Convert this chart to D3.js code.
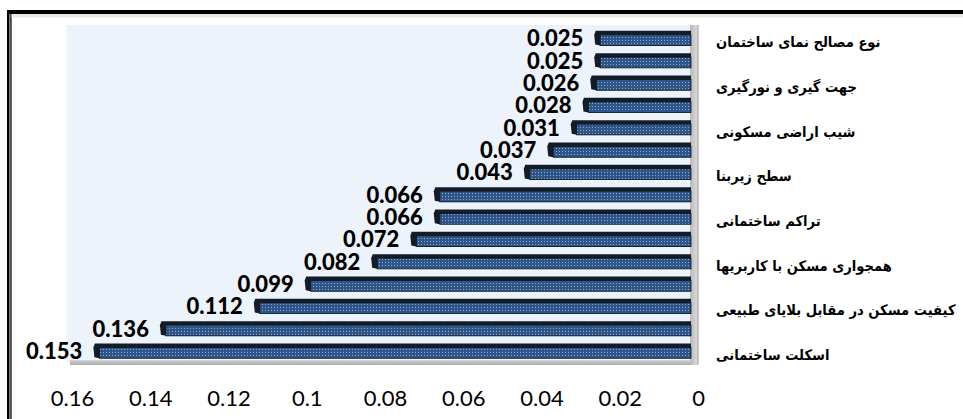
<!DOCTYPE html>
<html>
<head>
<meta charset="utf-8">
<script src="https://cdn.jsdelivr.net/npm/d3@7"></script>
<style>
  html, body { margin: 0; padding: 0; background: #ffffff; }
  svg { display: block; }
</style>
</head>
<body>
<svg id="chart" width="963" height="419"></svg>
<script>
// ---- data (top bar first) ----
const values = [0.025, 0.025, 0.026, 0.028, 0.031, 0.037, 0.043, 0.066, 0.066, 0.072, 0.082, 0.099, 0.112, 0.136, 0.153];
const valueLabels = ["0.025", "0.025", "0.026", "0.028", "0.031", "0.037", "0.043", "0.066", "0.066", "0.072", "0.082", "0.099", "0.112", "0.136", "0.153"];
// category labels shown on every other bar (index -> text)
const categoryIndex = [0, 2, 4, 6, 8, 10, 12, 14];
const categoryLabels = [
  "نوع مصالح نمای ساختمان",
  "جهت گیری و نورگیری",
  "شیب اراضی مسکونی",
  "سطح زیربنا",
  "تراکم ساختمانی",
  "همجواری مسکن با کاربریها",
  "کیفیت مسکن در مقابل بلایای طبیعی",
  "اسکلت ساختمانی"
];
const xTicks = [0.16, 0.14, 0.12, 0.1, 0.08, 0.06, 0.04, 0.02, 0];
const xTickLabels = ["0.16", "0.14", "0.12", "0.1", "0.08", "0.06", "0.04", "0.02", "0"];

const svg = d3.select("#chart");

// ---- frame ----
svg.append("rect").attr("x", 7).attr("y", 10).attr("width", 956).attr("height", 4).attr("fill", "#000");
svg.append("rect").attr("x", 7).attr("y", 10).attr("width", 2.5).attr("height", 409).attr("fill", "#000");
svg.append("rect").attr("x", 10.3).attr("y", 14).attr("width", 1.3).attr("height", 405).attr("fill", "#000");
svg.append("rect").attr("x", 11.6).attr("y", 14).attr("width", 952).attr("height", 3.6).attr("fill", "#eeebe1");

// ---- scales ----
const x = d3.scaleLinear().domain([0, 0.16]).range([698, 72]);
const y = d3.scaleBand().domain(d3.range(values.length)).range([27, 362]).paddingInner(0.34).paddingOuter(0.17);

// plot background
const plotLeft = 66.5, plotTop = 25, plotRight = 693, plotBottom = 362;
svg.append("rect").attr("x", plotLeft).attr("y", plotTop)
  .attr("width", plotRight - plotLeft).attr("height", plotBottom - plotTop).attr("fill", "#edf3fb");

// defs
const defs = svg.append("defs");
const pat = defs.append("pattern").attr("id", "dots").attr("patternUnits", "userSpaceOnUse")
  .attr("width", 3).attr("height", 3);
pat.append("rect").attr("width", 3).attr("height", 3).attr("fill", "#2f5688");
pat.append("rect").attr("x", 1).attr("y", 1).attr("width", 1).attr("height", 1).attr("fill", "#8fa9ce");
const wallG = defs.append("linearGradient").attr("id", "wall").attr("x1", 0).attr("x2", 1).attr("y1", 0).attr("y2", 0);
wallG.append("stop").attr("offset", "0%").attr("stop-color", "#b9b9b9");
wallG.append("stop").attr("offset", "100%").attr("stop-color", "#dedede");
const floorG = defs.append("linearGradient").attr("id", "floor").attr("x1", 0).attr("x2", 0).attr("y1", 0).attr("y2", 1);
floorG.append("stop").attr("offset", "0%").attr("stop-color", "#d6d6d6");
floorG.append("stop").attr("offset", "100%").attr("stop-color", "#a8a8a8");

// floor & wall
svg.append("rect").attr("x", 70).attr("y", 360).attr("width", 628).attr("height", 5).attr("fill", "url(#floor)");
svg.append("rect").attr("x", 690).attr("y", 25).attr("width", 8).attr("height", 340).attr("fill", "url(#wall)");
svg.append("line").attr("x1", 698).attr("x2", 698).attr("y1", 25).attr("y2", 365).attr("stroke", "#9a9a9a").attr("stroke-width", 1);

// ---- bars ----
const depthX = 6, depthY = 4;
const bars = svg.append("g");
values.forEach((v, i) => {
  const fx = x(v), by = y(i), bh = y.bandwidth();
  const bx = fx - depthX;
  const right = 691;
  // depth (top + left end)
  bars.append("path")
    .attr("d", `M${bx},${by + depthY} L${bx + 1.5},${by} L${right},${by} L${right},${by + bh} L${fx},${by + bh} L${bx + 1},${by + bh - 1} Z`)
    .attr("fill", "#141c28");
  // front face
  bars.append("rect")
    .attr("x", fx).attr("y", by + depthY)
    .attr("width", right - fx).attr("height", bh - depthY)
    .attr("fill", "url(#dots)").attr("stroke", "#0d1520").attr("stroke-width", 0.8);
});

// ---- value labels ----
svg.append("g").selectAll("text").data(values).join("text")
  .attr("x", d => x(d) - 17)
  .attr("y", (d, i) => y(i) + y.bandwidth() / 2 + 8)
  .attr("text-anchor", "end")
  .attr("font-family", "Lato, 'Open Sans', sans-serif")
  .attr("font-weight", "900")
  .attr("font-size", 22)
  .attr("fill", "#000")
  .text((d, i) => valueLabels[i]);

// ---- category labels ----
svg.append("g").selectAll("text").data(categoryLabels).join("text")
  .attr("x", 716)
  .attr("y", (d, k) => y(categoryIndex[k]) + y.bandwidth() / 2 + 9)
  .attr("text-anchor", "start")
  .attr("font-family", "'DejaVu Sans Condensed', 'DejaVu Sans', sans-serif")
  .attr("font-stretch", "condensed")
  .attr("font-weight", "bold")
  .attr("font-size", 14.6)
  .attr("fill", "#000")
  .text(d => d);

// ---- x axis ----
const axis = d3.axisBottom(x).tickValues(xTicks).tickSize(0).tickPadding(0)
  .tickFormat((d, i) => xTickLabels[i]);
const ax = svg.append("g").attr("transform", "translate(0,406)").call(axis);
ax.select(".domain").remove();
ax.selectAll("text")
  .attr("dy", 0).attr("y", 0)
  .attr("font-family", "Lato, 'Open Sans', sans-serif")
  .attr("font-size", 22)
  .attr("fill", "#000");
</script>
</body>
</html>
